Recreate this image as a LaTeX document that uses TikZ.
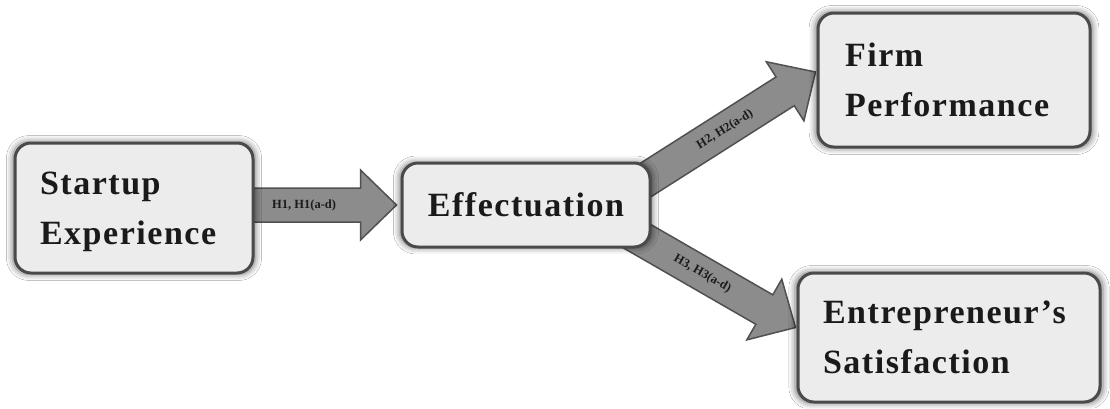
\documentclass[tikz,border=0pt]{standalone}
\usepackage{fontspec}
\usetikzlibrary{calc,shadows.blur}
\newfontfamily\boxfont{Liberation Serif}[LetterSpace=4.5]
\newfontfamily\labfont{Liberation Serif}
\definecolor{boxfill}{HTML}{ECECEC}
\definecolor{boxline}{HTML}{4A4A4A}
\definecolor{arrfill}{HTML}{8C8C8C}
\definecolor{arrline}{HTML}{505050}
\definecolor{txt}{HTML}{1A1A1A}
\pgfdeclarelayer{bg}
\pgfsetlayers{bg,main}
\tikzset{
  box/.style={draw=boxline, line width=3pt, fill=boxfill, rounded corners=16pt,
    inner sep=0pt, font=\boxfont\bfseries\fontsize{34}{50}\selectfont, text=txt,
    blur shadow={shadow xshift=0pt, shadow yshift=0pt, shadow blur radius=6pt,
      shadow opacity=55, shadow scale=1.02}},
  fat/.style={fill=arrfill, draw=arrline, line width=1.5pt, line join=miter},
  hyp/.style={font=\labfont\bfseries\fontsize{12.5}{14}\selectfont, text=txt, inner sep=0pt},
}
\newcommand\fatarr[3]{%
  \coordinate (#3hb) at ($(#2)!36pt!(#1)$);
  \draw[fat] ($(#1)!17pt!90:(#2)$) -- ($(#3hb)!17pt!90:(#2)$)
    -- ($(#3hb)!35pt!90:(#2)$) -- (#2) -- ($(#3hb)!35pt!-90:(#2)$)
    -- ($(#3hb)!17pt!-90:(#2)$) -- ($(#1)!17pt!-90:(#2)$) -- cycle;}
\begin{document}
\begin{tikzpicture}[x=1pt,y=-1pt]
\useasboundingbox (0,0) rectangle (1110,408);

\node[box, minimum width=238pt, minimum height=130pt, text width=188pt, align=left]
  (se) at (134,208) {Startup\\\smash{Experience}};
\node[box, minimum width=248pt, minimum height=84pt]
  (eff) at (526,205) {Effectuation};
\node[box, minimum width=272pt, minimum height=134pt, text width=218pt, align=left]
  (firm) at (954,80) {Firm\\Performance};
\node[box, minimum width=302pt, minimum height=129pt, text width=252pt, align=left]
  (ent) at (949,337.5) {Entrepreneur’s\\Satisfaction};

\coordinate (a1s) at ($(se.east)+(-12,-3)$);
\coordinate (a1t) at ($(eff.west)+(-4,0)$);
\coordinate (a2s) at ($(eff.center)+(74,4)$);
\coordinate (a2t) at ($(firm.west)+(-1,-8)$);
\coordinate (a3s) at ($(eff.center)+(69,7)$);
\coordinate (a3t) at ($(ent.west)+(-1,-10)$);

\begin{pgfonlayer}{bg}
  \fill[white] (0,0) rectangle (1110,408);
  \fatarr{a1s}{a1t}{ar1}
  \fatarr{a2s}{a2t}{ar2}
  \fatarr{a3s}{a3t}{ar3}
\end{pgfonlayer}

\node[hyp] (l1) at ($(a1s)!0.40!(a1t)$) {H1, H1(a-d)};
\node[hyp, rotate=32] (l2) at ($(a2s)!0.58!(a2t)$) {H2, H2(a-d)};
\node[hyp, rotate=-30] (l3) at ($(a3s)!0.535!(a3t)$) {H3, H3(a-d)};
\end{tikzpicture}
\end{document}
